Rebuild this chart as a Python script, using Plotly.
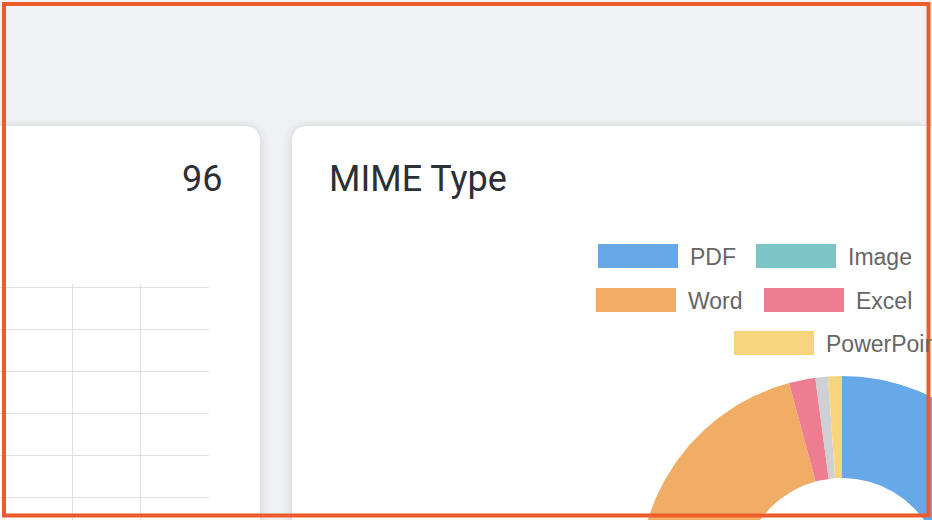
import numpy as np
import plotly.graph_objects as go

# ---------------- data ----------------
labels = ["PDF", "Image", "Word", "Excel", "Other", "PowerPoint"]
values = [50.0, 14.0, 31.8, 2.1, 1.0, 1.1]
colors = ["#66a8e8", "#7cc4c6", "#f1ad66", "#ef7d92", "#cfd0d4", "#f6d57c"]
legend_labels = ["PDF", "Image", "Word", "Excel", "PowerPoint"]
stat_value = "96"
card_title = "MIME Type"

W, H = 932, 520


def px(x):
    return x / W


def py(y):
    return 1 - y / H


def rrect(x0, y0, x1, y1, r):
    # rounded rectangle path in paper coords, given pixel coords (y down)
    pts = [
        f"M {px(x0 + r)} {py(y0)}",
        f"L {px(x1 - r)} {py(y0)}",
        f"Q {px(x1)} {py(y0)} {px(x1)} {py(y0 + r)}",
        f"L {px(x1)} {py(y1 - r)}",
        f"Q {px(x1)} {py(y1)} {px(x1 - r)} {py(y1)}",
        f"L {px(x0 + r)} {py(y1)}",
        f"Q {px(x0)} {py(y1)} {px(x0)} {py(y1 - r)}",
        f"L {px(x0)} {py(y0 + r)}",
        f"Q {px(x0)} {py(y0)} {px(x0 + r)} {py(y0)}",
        "Z",
    ]
    return " ".join(pts)


fig = go.Figure()

shapes = []
# card shadows
for grow, alpha in [(10, 0.010), (7, 0.014), (4, 0.018), (2, 0.022)]:
    for (x0, x1) in [(-40, 260), (292, 980)]:
        shapes.append(dict(type="path", xref="paper", yref="paper", layer="below",
                           path=rrect(x0 - grow, 126 - grow * 0.6, x1 + grow, 600, 16 + grow),
                           fillcolor=f"rgba(40,45,70,{alpha})", line=dict(width=0)))
# cards
for (x0, x1) in [(-40, 260), (292, 980)]:
    shapes.append(dict(type="path", xref="paper", yref="paper", layer="below",
                       path=rrect(x0, 126, x1, 600, 16),
                       fillcolor="#ffffff", line=dict(width=0)))

# ---------------- doughnut ----------------
cx, cy, r_out, r_in = 842, 579, 203, 101
total = sum(values)
start = 0.0
for lab, val, col in zip(labels, values, colors):
    a0 = start / total * 2 * np.pi
    a1 = (start + val) / total * 2 * np.pi
    start += val
    t = np.linspace(a0, a1, max(int((a1 - a0) * 80), 4))
    xs = np.concatenate([cx + r_out * np.sin(t), cx + r_in * np.sin(t[::-1])])
    ys = np.concatenate([cy - r_out * np.cos(t), cy - r_in * np.cos(t[::-1])])
    fig.add_trace(go.Scatter(x=np.append(xs, xs[0]), y=np.append(ys, ys[0]),
                             fill="toself", fillcolor=col, mode="lines",
                             line=dict(width=0, color=col), name=lab,
                             hoverinfo="name", showlegend=False,
                             xaxis="x", yaxis="y"))

# empty line chart grid (left card)
fig.add_trace(go.Scatter(x=[], y=[], xaxis="x2", yaxis="y2", showlegend=False))

# ---------------- custom legend ----------------
legend_pos = {  # box left x, row center y (pixels)
    "PDF": (598, 256), "Image": (756, 256),
    "Word": (596, 300), "Excel": (764, 300),
    "PowerPoint": (734, 343),
}
annotations = []
for lab in legend_labels:
    bx, by = legend_pos[lab]
    col = colors[labels.index(lab)]
    shapes.append(dict(type="rect", xref="paper", yref="paper", layer="above",
                       x0=px(bx), x1=px(bx + 80), y0=py(by - 12), y1=py(by + 12),
                       fillcolor=col, line=dict(width=0)))
    annotations.append(dict(text=lab, xref="paper", yref="paper", x=px(bx + 90), y=py(by + 0.5),
                            xanchor="left", yanchor="middle", showarrow=False,
                            font=dict(family="Liberation Sans", size=23, color="#666666")))

annotations.append(dict(text=stat_value, xref="paper", yref="paper", x=px(224), y=py(179),
                        xanchor="right", yanchor="middle", showarrow=False,
                        font=dict(family="Roboto", size=36, color="#2c2f34", weight=400)))
annotations.append(dict(text=card_title, xref="paper", yref="paper", x=px(327), y=py(179),
                        xanchor="left", yanchor="middle", showarrow=False,
                        font=dict(family="Roboto", size=36, color="#2c2f34", weight=400)))

# screenshot frame
shapes.append(dict(type="rect", xref="paper", yref="paper", layer="above",
                   x0=px(4), x1=px(928.5), y0=py(4), y1=py(515.5),
                   fillcolor="rgba(0,0,0,0)", line=dict(color="#ef5a2a", width=4)))

fig.update_layout(
    width=W, height=H, margin=dict(l=0, r=0, t=0, b=0),
    paper_bgcolor="#f0f1f5", plot_bgcolor="rgba(0,0,0,0)",
    shapes=shapes, annotations=annotations,
    xaxis=dict(domain=[0, 1], range=[0, W], visible=False, fixedrange=True),
    yaxis=dict(domain=[0, 1], range=[H, 0], visible=False, fixedrange=True),
    xaxis2=dict(domain=[0, 209 / W], range=[-0.0588, 3.0147], dtick=1, tick0=0,
                showgrid=True, gridcolor="#e0e0e0", gridwidth=1, zeroline=False,
                showticklabels=False, ticks="", showline=False, anchor="y2"),
    yaxis2=dict(domain=[0, (H - 284) / H], range=[-0.5357, 5.0833], dtick=1, tick0=0,
                showgrid=True, gridcolor="#e0e0e0", gridwidth=1, zeroline=False,
                showticklabels=False, ticks="", showline=False, anchor="x2"),
    showlegend=False,
)

fig.write_html("out.html")
